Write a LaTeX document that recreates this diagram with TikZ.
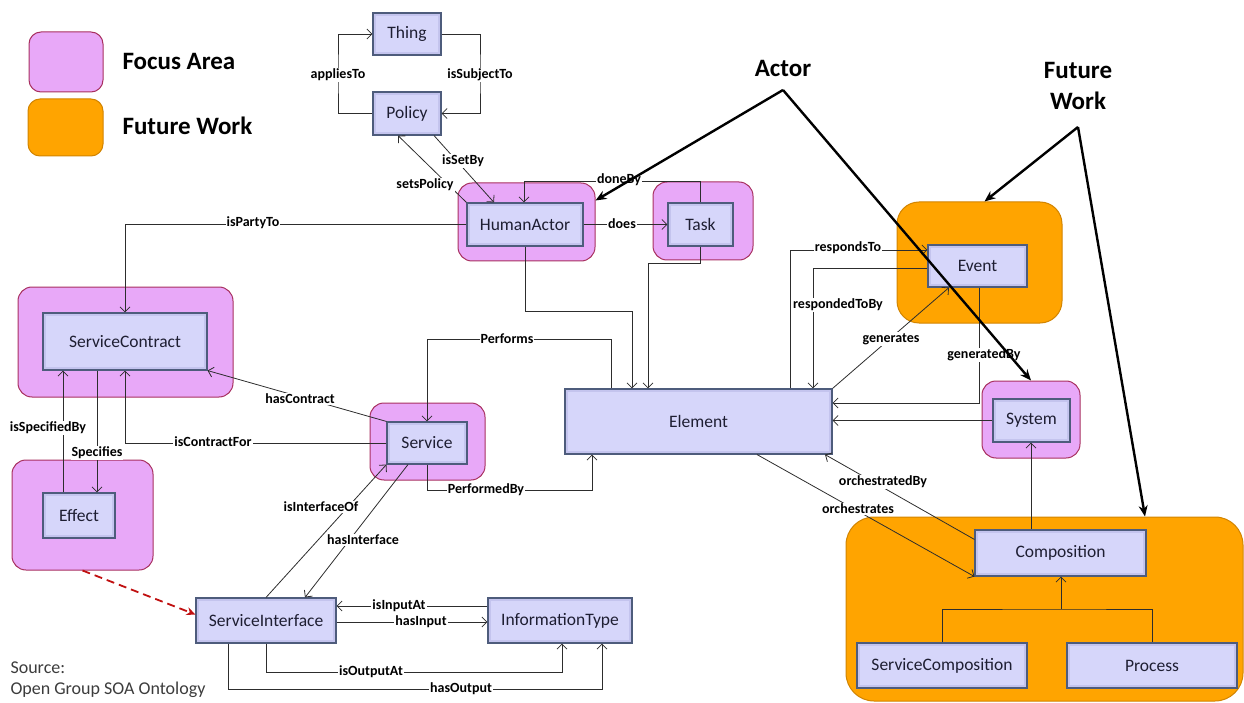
\documentclass[tikz,border=0pt]{standalone}
\usepackage{fontspec}
\setmainfont{Carlito}
\usetikzlibrary{arrows.meta,calc}
\definecolor{clsfill}{RGB}{196,196,238}
\definecolor{clsinner}{RGB}{214,214,250}
\definecolor{clsborder}{RGB}{78,92,124}
\definecolor{clstext}{RGB}{30,30,50}
\definecolor{pinkfill}{RGB}{232,168,248}
\definecolor{pinkborder}{RGB}{168,48,96}
\definecolor{orfill}{RGB}{255,164,0}
\definecolor{orborder}{RGB}{210,132,0}
\definecolor{conncol}{RGB}{45,45,45}
\definecolor{dashred}{RGB}{192,16,16}
\definecolor{srcgray}{RGB}{60,60,60}
\begin{document}
\begin{tikzpicture}[x=1pt,y=-1pt,
  cls/.style={draw=clsborder, line width=1.1pt, fill=clsfill, inner sep=0pt,
    text=clstext, font=\fontsize{17.5}{20}\selectfont,
    path picture={\fill[clsinner] ($(path picture bounding box.south west)+(3,-3)$) rectangle ($(path picture bounding box.north east)+(-3,3)$);}},
  pinkbox/.style={draw=pinkborder, line width=1pt, fill=pinkfill, rounded corners=14pt, inner sep=0pt},
  orbox/.style={draw=orborder, line width=1pt, fill=orfill, rounded corners=22pt, inner sep=0pt},
  conn/.style={draw=conncol, line width=0.8pt, -{Straight Barb[length=5pt,width=10pt]}},
  cline/.style={draw=conncol, line width=0.8pt},
  lbl/.style={fill=white, inner sep=1pt, font=\bfseries\fontsize{14}{16}\selectfont},
  bigarrow/.style={draw=black, line width=2.4pt, -{Stealth[length=11pt,width=9pt]}},
  redarrow/.style={draw=dashred, line width=1.8pt, dash pattern=on 8pt off 5pt, -{Stealth[length=9pt,width=8pt]}},
  legtxt/.style={anchor=west, font=\bfseries\fontsize{25}{29}\selectfont},
  calltxt/.style={align=center, font=\bfseries\fontsize{25}{31}\selectfont},
  srctxt/.style={anchor=west, text=srcgray, font=\fontsize{18}{21}\selectfont}
]
\useasboundingbox (0,0) rectangle (1244,703);

% legend
\path[pinkbox, rounded corners=12pt] (29,32) rectangle (103,92);
\path[orbox, rounded corners=12pt] (28,99) rectangle (103,156);
\node[legtxt] (legfocus) at (119,61) {Focus Area};
\node[legtxt] (legfuture) at (119,126) {Future Work};

% outer areas
\node[pinkbox, minimum width=137pt, minimum height=78pt] (haO) at (526.5,222) {};
\node[pinkbox, minimum width=100pt, minimum height=78pt] (taskO) at (703,221) {};
\node[pinkbox, minimum width=215pt, minimum height=110pt] (scO) at (125.5,342) {};
\node[pinkbox, minimum width=141pt, minimum height=110pt] (effO) at (82.5,515) {};
\node[pinkbox, minimum width=115pt, minimum height=77pt] (svO) at (427.5,441.5) {};
\node[orbox, minimum width=165pt, minimum height=121pt] (evO) at (979.5,262.5) {};
\node[pinkbox, minimum width=98pt, minimum height=77pt] (syO) at (1031,419.5) {};
\node[orbox, rounded corners=28pt, minimum width=397pt, minimum height=184pt] (coO) at (1044.5,609) {};

% classes
\node[cls, minimum width=68pt, minimum height=42pt] (thing) at (407,34) {Thing};
\node[cls, minimum width=68pt, minimum height=43pt] (policy) at (407,113.5) {Policy};
\node[cls, minimum width=116pt, minimum height=43pt] (ha) at (525,224.5) {HumanActor};
\node[cls, minimum width=65pt, minimum height=43pt] (task) at (700.5,224.5) {Task};
\node[cls, minimum width=164pt, minimum height=57pt] (sc) at (125,341.5) {ServiceContract};
\node[cls, minimum width=72pt, minimum height=45pt] (eff) at (79,515.5) {Effect};
\node[cls, minimum width=80pt, minimum height=42pt] (sv) at (427,443) {Service};
\node[cls, minimum width=267pt, minimum height=65pt] (el) at (698.5,421.5) {Element};
\node[cls, minimum width=99pt, minimum height=42pt] (ev) at (977.5,266) {Event};
\node[cls, minimum width=77pt, minimum height=43pt] (sy) at (1031.5,420.5) {System};
\node[cls, minimum width=171pt, minimum height=46pt] (co) at (1060.5,553) {Composition};
\node[cls, minimum width=170pt, minimum height=45pt] (scomp) at (942,665.5) {ServiceComposition};
\node[cls, minimum width=170pt, minimum height=45pt] (proc) at (1152,665.5) {Process};
\node[cls, minimum width=140pt, minimum height=45pt] (si) at (266,620.5) {ServiceInterface};
\node[cls, minimum width=144pt, minimum height=45pt] (it) at (560,620.5) {InformationType};

% connectors
\draw[conn] (policy.west) -| (338,74) |- (thing.west);
\draw[conn] (thing.east) -| (480,74) |- (policy.east);
\draw[conn] (ha.north west) -- (398,0 |- policy.south);
\draw[conn] (434,0 |- policy.south) -- (494,0 |- ha.north);
\draw[conn] (ha.east) -- (task.west);
\draw[conn] (task.north) |- (524,181) -- (524,0 |- ha.north);
\draw[conn] (ha.west) -| (sc.north);
\draw[conn] (ha.south) |- (632,311) -- (632,0 |- el.north);
\draw[conn] (task.south) |- (648,263) -- (648,0 |- el.north);
\draw[conn] (611,0 |- el.north) |- (427,339) -- (sv.north);
\draw[conn] (sv.south) |- (592,490) -- (592,0 |- el.south);
\draw[conn] (sv.north west) -- (sc.south east);
\draw[conn] (sv.west) -| (sc.south);
\draw[conn] (63,0 |- eff.north) -- (63,0 |- sc.south);
\draw[conn] (97,0 |- sc.south) -- (97,0 |- eff.north);
\draw[redarrow] (effO.south) -- ([yshift=6pt]si.west);
\draw[conn] (si.north) -- (sv.south west);
\draw[conn] (408,0 |- sv.south) -- (305,0 |- si.north);
\draw[conn] (it.west |- 0,606) -- (si.east |- 0,606);
\draw[conn] (si.east |- 0,622) -- (it.west |- 0,622);
\draw[conn] (266,0 |- si.south) |- (562,672) -- (562,0 |- it.south);
\draw[conn] (228,0 |- si.south) |- (602,689) -- (602,0 |- it.south);
\draw[conn] (790,0 |- el.north) |- (ev.west |- 0,250);
\draw[conn] (ev.west |- 0,268) -| (813,0 |- el.north);
\draw[conn] (el.north east) -- (949,0 |- ev.south);
\draw[conn] (979,0 |- ev.south) |- (el.east |- 0,403);
\draw[conn] (sy.west) -- (el.east |- sy.west);
\draw[conn] (1031,0 |- co.north) -- (1031,0 |- sy.south);
\draw[conn] ([yshift=-10pt]co.north west) -- (825,0 |- el.south);
\draw[conn] (757,0 |- el.south) -- (co.south west);
\draw[cline] (scomp.north) |- (1061,609) -| (proc.north);
\draw[conn] (1061,609) -- (1061,0 |- co.south);

% connector labels
\node[lbl] (l1) at (338,75) {appliesTo};
\node[lbl] (l2) at (480,75) {isSubjectTo};
\node[lbl] (l3) at (463,161) {isSetBy};
\node[lbl] (l4) at (425,185) {setsPolicy};
\node[lbl] (l5) at (619,180) {doneBy};
\node[lbl] (l6) at (622,224) {does};
\node[lbl] (l7) at (253,223) {isPartyTo};
\node[lbl] (l8) at (507,339) {Performs};
\node[lbl] (l9) at (486,490) {PerformedBy};
\node[lbl] (l10) at (300,399) {hasContract};
\node[lbl] (l11) at (213,442) {isContractFor};
\node[lbl] (l12) at (48,428) {isSpecifiedBy};
\node[lbl] (l13) at (97,453) {Specifies};
\node[lbl] (l14) at (321,507) {isInterfaceOf};
\node[lbl] (l15) at (363,540) {hasInterface};
\node[lbl] (l16) at (399,606) {isInputAt};
\node[lbl] (l17) at (421,622) {hasInput};
\node[lbl] (l18) at (371,672) {isOutputAt};
\node[lbl] (l19) at (461,689) {hasOutput};
\node[lbl] (l20) at (848,248) {respondsTo};
\node[lbl] (l21) at (838,305) {respondedToBy};
\node[lbl] (l22) at (891,339) {generates};
\node[lbl] (l23) at (984,355) {generatedBy};
\node[lbl] (l24) at (883,482) {orchestratedBy};
\node[lbl] (l25) at (858,509) {orchestrates};

% source
\node[srctxt] (src1) at (7,668) {Source:};
\node[srctxt] (src2) at (7,690) {Open Group SOA Ontology};

% callouts
\node[calltxt] (actor) at (783,68) {Actor};
\coordinate (actortip) at (783,90);
\node[calltxt] (future) at (1078,86) {Future\\Work};
\coordinate (futuretip) at (1078,127);
\draw[bigarrow] (actortip) -- ([yshift=-18pt]haO.north east);
\draw[bigarrow] (actortip) -- (syO.north);
\draw[bigarrow] (futuretip) -- ([xshift=5pt]evO.north);
\draw[bigarrow] (futuretip) -- (1145,0 |- coO.north);
\end{tikzpicture}
\end{document}
